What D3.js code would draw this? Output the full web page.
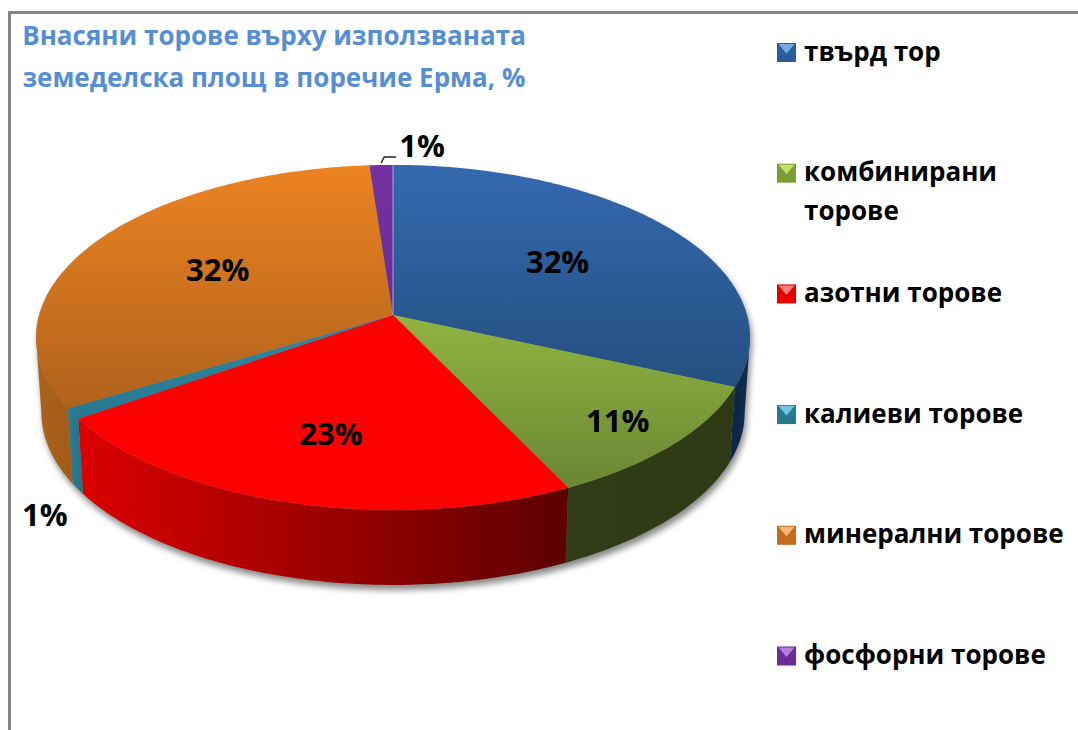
<!DOCTYPE html>
<html>
<head>
<meta charset="utf-8">
<script src="https://cdn.jsdelivr.net/npm/d3@7"></script>
<style>
  html, body { margin: 0; padding: 0; background: #fff; overflow: hidden; }
  svg { display: block; }
  text { font-family: "Open Sans", "Noto Sans", sans-serif; font-weight: 700; }
</style>
</head>
<body>
<svg id="chart" width="1078" height="730"></svg>
<script>
// Chart data (labels round to whole percents)
const categories = ["твърд тор", "комбинирани торове", "азотни торове", "калиеви торове", "минерални торове", "фосфорни торове"];
const shares = [31.6, 11.2, 22.6, 1.0, 32.4, 1.2];
const titleLines = ["Внасяни торове върху използваната", "земеделска площ в поречие Ерма, %"];

// Colours per slice: top surface [upper, lower], wall [left, right], swatch
const topColors = [["#3569b0", "#24507f"], ["#90b440", "#6c8634"], ["#ff0000", "#ff0000"], ["#2f89a6", "#27788f"], ["#ec8322", "#b0621c"], ["#7330a2", "#6a2c96"]];
const wallColors = [["#0c2748", "#0f2c50"], ["#303c15", "#2d3a13"], ["#dc0000", "#5c0000"], ["#2a7f98", "#267489"], ["#ab641d", "#a25c18"], ["#6a2c96", "#6a2c96"]];
const swatchColors = [["#2d5c9c", "#78a8e6"], ["#7c9c36", "#c0e068"], ["#e80000", "#ff8080"], ["#27788f", "#70c8e0"], ["#c46c1e", "#f8b878"], ["#6a2c96", "#b080e0"]];

// Label placement: radius on the pie, plus a pixel offset to line up with the picture
const labelRadius = [0.6, 0.83, 0.66, 1, 0.58, 1];
const labelShift = [[-6, -1], [-4, -1], [3, 0], [-28, 100], [1, -2], [41, -20]];

const svg = d3.select("#chart");
const defs = svg.append("defs");

// Perspective of the pie disc
const CENTER = { x: 393, y: 315 };
const K = 0.13;
const DEPTH = 75;
const x = d3.scaleLinear().domain([-1, 1]).range([CENTER.x - 354, CENTER.x + 354]);
const y = d3.scaleLinear().domain([-1, 1]).range([CENTER.y + 169.6, CENTER.y - 169.6]);

function project(angle, r = 1) {
  const u = r * Math.sin(angle);
  const v = r * Math.cos(angle);
  const w = 1 + K * v;
  return [x(u / w), y(v / w)];
}

function projectBottom(angle) {
  const p = project(angle);
  return [CENTER.x + (p[0] - CENTER.x) * 0.985, p[1] + DEPTH];
}

function sample(a0, a1) {
  const n = Math.max(2, Math.ceil(Math.abs(a1 - a0) * 60));
  return d3.range(n + 1).map(i => a0 + (a1 - a0) * i / n);
}

const line = d3.line();
const slices = d3.pie().sort(null).value(d => d)(shares);

// frame
svg.append("path")
  .attr("d", "M9.5,730V12.5H1078")
  .attr("fill", "none")
  .attr("stroke", "#868686")
  .attr("stroke-width", 3);

// soft shadow under the pie
const blur = defs.append("filter").attr("id", "shadowBlur")
  .attr("x", "-10%").attr("y", "-10%").attr("width", "120%").attr("height", "120%");
blur.append("feGaussianBlur").attr("stdDeviation", 3);

const WALL_FROM = Math.PI / 2 + 0.13;
const WALL_TO = Math.PI * 1.5 - 0.13;

const outline = sample(WALL_FROM, WALL_TO).map(projectBottom)
  .concat(sample(WALL_TO, WALL_FROM + 2 * Math.PI).map(a => project(a)));
svg.append("path")
  .attr("d", line(outline) + "Z")
  .attr("transform", "translate(2,5)")
  .attr("fill", "#888")
  .attr("filter", "url(#shadowBlur)");

// gradients
slices.forEach((s, i) => {
  const ys = sample(s.startAngle, s.endAngle).map(a => project(a)[1]).concat(CENTER.y);
  const topGrad = defs.append("linearGradient").attr("id", `top${i}`)
    .attr("gradientUnits", "userSpaceOnUse")
    .attr("x1", 0).attr("x2", 0).attr("y1", d3.min(ys)).attr("y2", d3.max(ys));
  topGrad.append("stop").attr("offset", 0).attr("stop-color", topColors[i][0]);
  topGrad.append("stop").attr("offset", 1).attr("stop-color", topColors[i][1]);

  const a0 = Math.max(s.startAngle, WALL_FROM);
  const a1 = Math.min(s.endAngle, WALL_TO);
  if (a1 <= a0) return;
  // walls run right to left on the way round, so the left colour goes on the far end
  const wallGrad = defs.append("linearGradient").attr("id", `wall${i}`)
    .attr("gradientUnits", "userSpaceOnUse")
    .attr("x1", project(a1)[0]).attr("x2", project(a0)[0]).attr("y1", 0).attr("y2", 0);
  wallGrad.append("stop").attr("offset", 0).attr("stop-color", wallColors[i][0]);
  wallGrad.append("stop").attr("offset", 1).attr("stop-color", wallColors[i][1]);
});

// walls
svg.append("g").selectAll("path")
  .data(slices.filter(s => Math.min(s.endAngle, WALL_TO) > Math.max(s.startAngle, WALL_FROM)))
  .join("path")
  .attr("d", s => {
    const a0 = Math.max(s.startAngle, WALL_FROM);
    const a1 = Math.min(s.endAngle, WALL_TO);
    const pts = sample(a0, a1).map(a => project(a))
      .concat(sample(a1, a0).map(projectBottom));
    return line(pts) + "Z";
  })
  .attr("fill", s => `url(#wall${s.index})`);

// top surface
svg.append("g").selectAll("path")
  .data(slices)
  .join("path")
  .attr("d", s => line([[CENTER.x, CENTER.y]].concat(sample(s.startAngle, s.endAngle).map(a => project(a)))) + "Z")
  .attr("fill", s => `url(#top${s.index})`);

// thin light seam where blue starts
svg.append("path")
  .attr("d", line([[CENTER.x, CENTER.y], project(0)]))
  .attr("stroke", "#b4c4e4")
  .attr("stroke-width", 1)
  .attr("opacity", 0.8);

// value labels
const pct = d3.format(".0f");
const labelPos = slices.map((s, i) => {
  const mid = (s.startAngle + s.endAngle) / 2;
  const p = project(mid, labelRadius[i]);
  return [p[0] + labelShift[i][0], p[1] + labelShift[i][1]];
});

svg.append("g").selectAll("text")
  .data(slices)
  .join("text")
  .attr("x", (s, i) => labelPos[i][0])
  .attr("y", (s, i) => labelPos[i][1])
  .attr("text-anchor", "middle")
  .attr("dominant-baseline", "central")
  .attr("font-size", 31)
  .attr("fill", "#000")
  .text(s => pct(s.value) + "%");

// leader for the last slice
const leaderStart = project((slices[5].startAngle + slices[5].endAngle) / 2);
svg.append("path")
  .attr("d", line([[leaderStart[0], leaderStart[1] - 2], [leaderStart[0] + 3, leaderStart[1] - 8], [leaderStart[0] + 15, leaderStart[1] - 8]]))
  .attr("fill", "none")
  .attr("stroke", "#222")
  .attr("stroke-width", 1.5);

// title
svg.append("g").selectAll("text")
  .data(titleLines)
  .join("text")
  .attr("x", 274)
  .attr("y", (d, i) => 45 + i * 42)
  .attr("text-anchor", "middle")
  .attr("font-size", 26)
  .attr("fill", "#558ed5")
  .text(d => d);

// legend
const legendY = d3.scalePoint().domain(categories).range([52.5, 656]);
const SW = 19;
const legendRows = svg.append("g").selectAll("g")
  .data(categories)
  .join("g")
  .attr("transform", d => `translate(777,${legendY(d)})`);

legendRows.append("rect")
  .attr("x", 0).attr("y", -SW / 2)
  .attr("width", SW).attr("height", SW)
  .attr("fill", (d, i) => swatchColors[i][0]);

// lighter wedge on the swatch, the bevel of the original marker
legendRows.append("path")
  .attr("d", line([[1.5, -SW / 2 + 1], [SW - 1.5, -SW / 2 + 1], [SW / 2, 1]]) + "Z")
  .attr("fill", (d, i) => swatchColors[i][1]);

legendRows.append("text")
  .attr("x", 27)
  .attr("y", 8)
  .attr("font-size", 26)
  .attr("fill", "#000")
  .each(function (d) {
    // only the long name wraps, as in the reference
    const words = d === categories[1] ? d.split(" ") : [d];
    d3.select(this).selectAll("tspan")
      .data(words)
      .join("tspan")
      .attr("x", 27)
      .attr("dy", (w, i) => i ? 39 : 0)
      .text(w => w);
  });
</script>
</body>
</html>
